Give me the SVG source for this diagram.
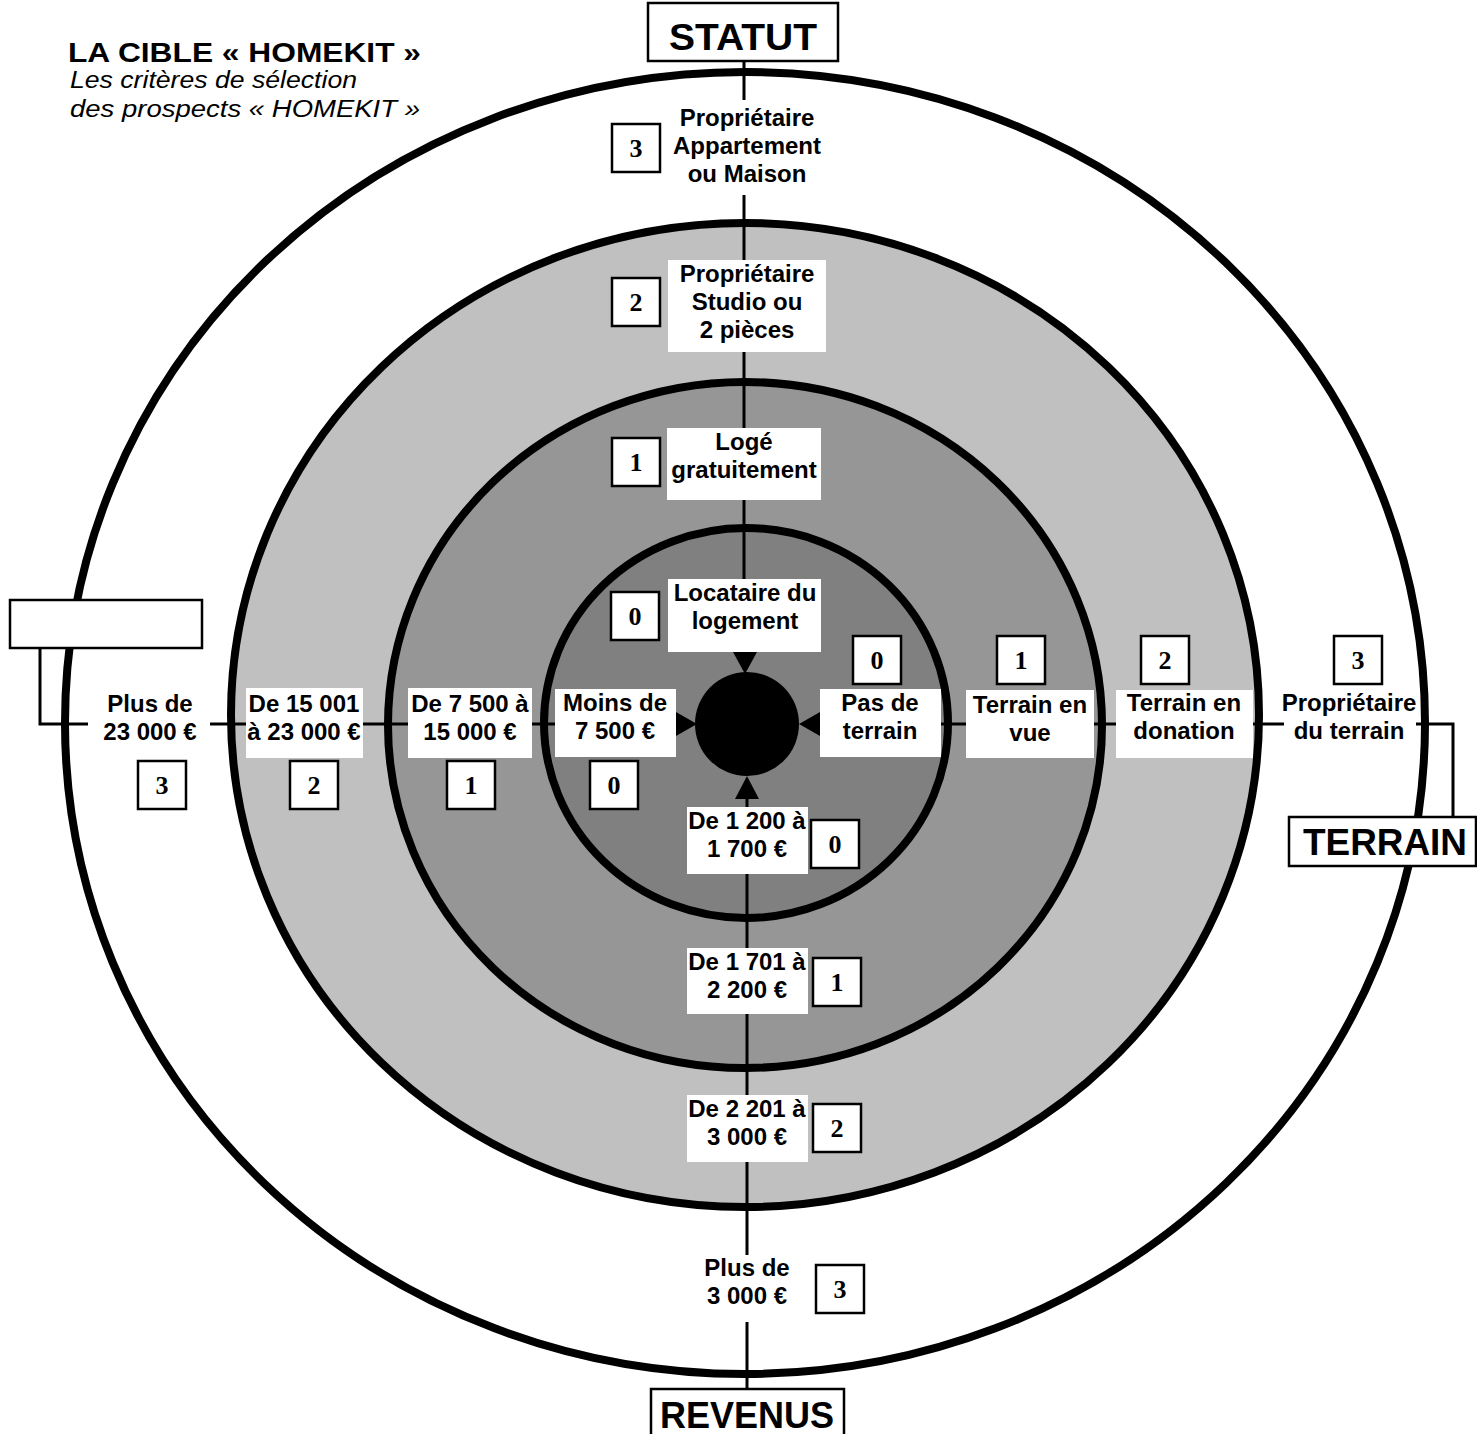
<svg xmlns="http://www.w3.org/2000/svg" width="1477" height="1434" viewBox="0 0 1477 1434">
<style>
.ring{stroke:#000;stroke-width:8}
.ax{fill:none;stroke:#000;stroke-width:3}
.wb{fill:#fff}
.lbl{font-family:"Liberation Sans",Arial,sans-serif;font-weight:bold;font-size:24px;text-anchor:middle;fill:#000}
.nb{fill:#fff;stroke:#000;stroke-width:2.5}
.nt{font-family:"Liberation Serif","Times New Roman",serif;font-weight:bold;font-size:26px;text-anchor:middle;fill:#000}
.hb{fill:#fff;stroke:#000;stroke-width:2.5}
.ht{font-family:"Liberation Sans",Arial,sans-serif;font-weight:bold;font-size:36px;text-anchor:middle;fill:#000}
.arr{fill:#000}
</style>
<rect width="1477" height="1434" fill="#fff"/>
<g id="rings">
<ellipse class="ring" cx="745" cy="723" rx="680" ry="651" fill="#fff"/>
<ellipse class="ring" cx="745" cy="715" rx="514" ry="492" fill="#c0c0c0"/>
<ellipse class="ring" cx="745" cy="725" rx="357" ry="343" fill="#969696"/>
<ellipse class="ring" cx="746" cy="723" rx="202" ry="195" fill="#808080"/>
</g>
<g id="connectors">
<path class="ax" d="M744 61V652"/>
<path class="ax" d="M747 799V1389"/>
<path class="ax" d="M40 648V724H676"/>
<path class="ax" d="M820 724H1453V817"/>
<polygon class="arr" points="733,652 757,652 745,674"/>
<polygon class="arr" points="676,712 676,736 697,724"/>
<polygon class="arr" points="820,712 820,736 799,724"/>
<polygon class="arr" points="735,799 759,799 747,776"/>
</g>
<circle id="center" cx="747" cy="724" r="52" fill="#000"/>
<g id="title" font-family="Liberation Sans, Arial, sans-serif">
<text x="68" y="62" font-size="28" font-weight="bold" textLength="353" lengthAdjust="spacingAndGlyphs">LA CIBLE « HOMEKIT »</text>
<text x="70" y="88" font-size="23" font-style="italic" textLength="287" lengthAdjust="spacingAndGlyphs">Les critères de sélection</text>
<text x="70" y="117" font-size="23" font-style="italic" textLength="350" lengthAdjust="spacingAndGlyphs">des prospects « HOMEKIT »</text>
</g>
<g id="statut"><rect class="hb" x="648" y="3" width="190" height="58"/><text class="ht" x="743" y="50" font-size="37" textLength="148" lengthAdjust="spacingAndGlyphs">STATUT</text></g>
<g id="revenus"><rect class="hb" x="651" y="1389" width="193" height="52"/><text class="ht" x="747" y="1428" textLength="174" lengthAdjust="spacingAndGlyphs">REVENUS</text></g>
<g id="terrain"><rect class="hb" x="1289" y="817" width="187" height="49"/><text class="ht" x="1385" y="855" textLength="164" lengthAdjust="spacingAndGlyphs">TERRAIN</text></g>
<g id="revenus-left"><rect class="hb" x="10" y="600" width="192" height="48"/></g>
<g id="t3"><rect class="wb" x="668" y="100" width="158" height="95"/><text class="lbl"><tspan x="747" y="126">Propriétaire</tspan><tspan x="747" y="154">Appartement</tspan><tspan x="747" y="182">ou Maison</tspan></text><rect class="nb" x="612" y="124" width="48" height="48"/><text class="nt" x="636" y="157">3</text></g>
<g id="t2"><rect class="wb" x="668" y="260" width="158" height="92"/><text class="lbl"><tspan x="747" y="282">Propriétaire</tspan><tspan x="747" y="310">Studio ou</tspan><tspan x="747" y="338">2 pièces</tspan></text><rect class="nb" x="612" y="278" width="48" height="48"/><text class="nt" x="636" y="311">2</text></g>
<g id="t1"><rect class="wb" x="667" y="428" width="154" height="72"/><text class="lbl"><tspan x="744" y="450">Logé</tspan><tspan x="744" y="478">gratuitement</tspan></text><rect class="nb" x="612" y="438" width="48" height="48"/><text class="nt" x="636" y="471">1</text></g>
<g id="t0"><rect class="wb" x="668" y="579" width="153" height="73"/><text class="lbl"><tspan x="745" y="601">Locataire du</tspan><tspan x="745" y="629">logement</tspan></text><rect class="nb" x="611" y="592" width="48" height="48"/><text class="nt" x="635" y="625">0</text></g>
<g id="l3"><rect class="wb" x="88" y="690" width="122" height="68"/><text class="lbl"><tspan x="150" y="712">Plus de</tspan><tspan x="150" y="740">23 000 €</tspan></text><rect class="nb" x="138" y="761" width="48" height="48"/><text class="nt" x="162" y="794">3</text></g>
<g id="l2"><rect class="wb" x="246" y="688" width="117" height="70"/><text class="lbl"><tspan x="304" y="712">De 15 001</tspan><tspan x="304" y="740">à 23 000 €</tspan></text><rect class="nb" x="290" y="761" width="48" height="48"/><text class="nt" x="314" y="794">2</text></g>
<g id="l1"><rect class="wb" x="408" y="688" width="124" height="70"/><text class="lbl"><tspan x="470" y="712">De 7 500 à</tspan><tspan x="470" y="740">15 000 €</tspan></text><rect class="nb" x="447" y="761" width="48" height="48"/><text class="nt" x="471" y="794">1</text></g>
<g id="l0"><rect class="wb" x="555" y="689" width="121" height="68"/><text class="lbl"><tspan x="615" y="711">Moins de</tspan><tspan x="615" y="739">7 500 €</tspan></text><rect class="nb" x="590" y="761" width="48" height="48"/><text class="nt" x="614" y="794">0</text></g>
<g id="r0"><rect class="wb" x="820" y="689" width="121" height="68"/><text class="lbl"><tspan x="880" y="711">Pas de</tspan><tspan x="880" y="739">terrain</tspan></text><rect class="nb" x="853" y="636" width="48" height="48"/><text class="nt" x="877" y="669">0</text></g>
<g id="r1"><rect class="wb" x="966" y="690" width="128" height="68"/><text class="lbl"><tspan x="1030" y="713">Terrain en</tspan><tspan x="1030" y="741">vue</tspan></text><rect class="nb" x="997" y="636" width="48" height="48"/><text class="nt" x="1021" y="669">1</text></g>
<g id="r2"><rect class="wb" x="1116" y="690" width="137" height="68"/><text class="lbl"><tspan x="1184" y="711">Terrain en</tspan><tspan x="1184" y="739">donation</tspan></text><rect class="nb" x="1141" y="636" width="48" height="48"/><text class="nt" x="1165" y="669">2</text></g>
<g id="r3"><rect class="wb" x="1284" y="690" width="132" height="60"/><text class="lbl"><tspan x="1349" y="711">Propriétaire</tspan><tspan x="1349" y="739">du terrain</tspan></text><rect class="nb" x="1334" y="636" width="48" height="48"/><text class="nt" x="1358" y="669">3</text></g>
<g id="b0"><rect class="wb" x="687" y="807" width="121" height="67"/><text class="lbl"><tspan x="747" y="829">De 1 200 à</tspan><tspan x="747" y="857">1 700 €</tspan></text><rect class="nb" x="811" y="820" width="48" height="48"/><text class="nt" x="835" y="853">0</text></g>
<g id="b1"><rect class="wb" x="687" y="948" width="121" height="66"/><text class="lbl"><tspan x="747" y="970">De 1 701 à</tspan><tspan x="747" y="998">2 200 €</tspan></text><rect class="nb" x="813" y="958" width="48" height="48"/><text class="nt" x="837" y="991">1</text></g>
<g id="b2"><rect class="wb" x="687" y="1095" width="121" height="67"/><text class="lbl"><tspan x="747" y="1117">De 2 201 à</tspan><tspan x="747" y="1145">3 000 €</tspan></text><rect class="nb" x="813" y="1104" width="48" height="48"/><text class="nt" x="837" y="1137">2</text></g>
<g id="b3"><rect class="wb" x="690" y="1255" width="114" height="67"/><text class="lbl"><tspan x="747" y="1276">Plus de</tspan><tspan x="747" y="1304">3 000 €</tspan></text><rect class="nb" x="816" y="1265" width="48" height="48"/><text class="nt" x="840" y="1298">3</text></g>
</svg>
